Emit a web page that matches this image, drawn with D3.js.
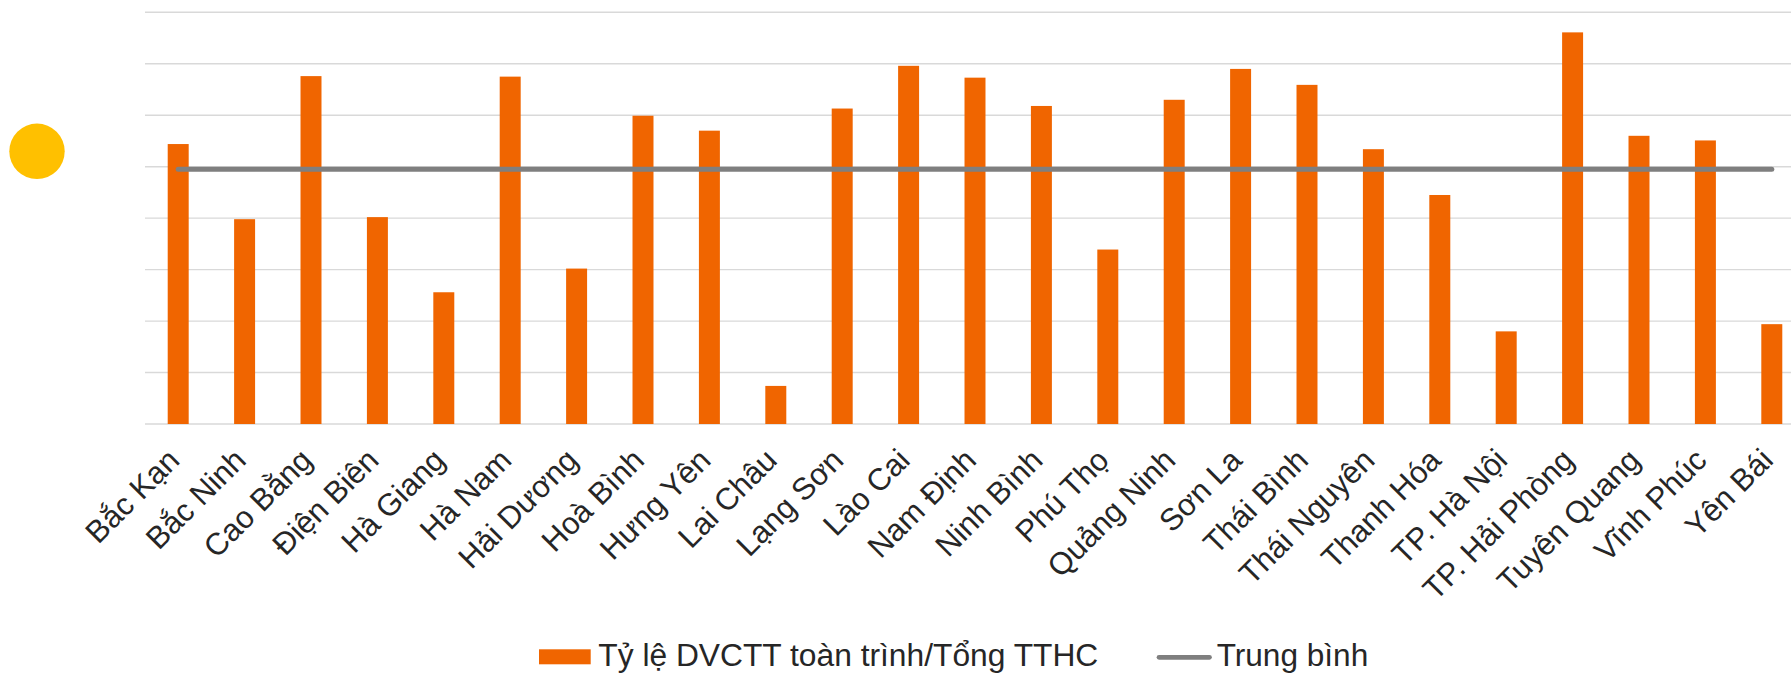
<!DOCTYPE html>
<html>
<head>
<meta charset="utf-8">
<script src="https://cdn.jsdelivr.net/npm/d3@7"></script>
<style>
html,body{margin:0;padding:0;background:#fff;overflow:hidden;}
svg{display:block;font-family:"Liberation Sans",Arial,sans-serif;}
</style>
</head>
<body>
<svg id="chart" width="1791" height="673"></svg>
<script>
const categories = ["Bắc Kạn","Bắc Ninh","Cao Bằng","Điện Biên","Hà Giang","Hà Nam","Hải Dương","Hoà Bình","Hưng Yên","Lai Châu","Lạng Sơn","Lào Cai","Nam Định","Ninh Bình","Phú Thọ","Quảng Ninh","Sơn La","Thái Bình","Thái Nguyên","Thanh Hóa","TP. Hà Nội","TP. Hải Phòng","Tuyên Quang","Vĩnh Phúc","Yên Bái"];
const ratioValues = [54.4,39.8,67.6,40.2,25.6,67.5,30.2,59.9,57.0,7.4,61.3,69.6,67.3,61.8,33.9,63.0,69.0,65.9,53.4,44.5,18.0,76.1,56.0,55.1,19.4];
const averageValue = 49.5;
const averageValues = categories.map(() => averageValue);
const yTicks = [0,10,20,30,40,50,60,70,80];
const seriesNames = ["Tỷ lệ DVCTT toàn trình/Tổng TTHC","Trung bình"];

const svg = d3.select("#chart");
const barColor = "#F06500";
const lineColor = "#7F7F7F";

const x = d3.scaleBand().domain(categories).range([145, 1805]).paddingInner(0.684).paddingOuter(0.342);
const y = d3.scaleLinear().domain([0, 80]).range([424, 12.3]);

// gridlines
svg.append("g").selectAll("line").data(yTicks).join("line")
  .attr("x1", 145).attr("x2", 1805)
  .attr("y1", d => y(d)).attr("y2", d => y(d))
  .attr("stroke", "#D9D9D9").attr("stroke-width", 1.4);

// bars
svg.append("g").selectAll("rect").data(categories).join("rect")
  .attr("x", d => x(d)).attr("width", x.bandwidth())
  .attr("y", (d,i) => y(ratioValues[i]))
  .attr("height", (d,i) => y(0) - y(ratioValues[i]))
  .attr("fill", barColor);

// average line
const line = d3.line().x((d,i) => x(categories[i]) + x.bandwidth()/2).y(d => y(d));
svg.append("path").datum(averageValues).attr("d", line)
  .attr("fill", "none").attr("stroke", lineColor).attr("stroke-width", 5)
  .attr("stroke-linecap", "round");

// x labels
svg.append("g").selectAll("text").data(categories).join("text")
  .attr("transform", d => `translate(${x(d) + x.bandwidth()/2 + 3},${462}) rotate(-45)`)
  .attr("text-anchor", "end")
  .attr("font-size", 31)
  .attr("fill", "#262626")
  .text(d => d);

// yellow dot
svg.append("circle").attr("cx", 37).attr("cy", 151.3).attr("r", 27.7).attr("fill", "#FFC000");

// legend
const lg = svg.append("g");
lg.append("rect").attr("x", 539).attr("y", 649.3).attr("width", 51.7).attr("height", 15).attr("fill", barColor);
lg.append("text").attr("x", 598.3).attr("y", 666).attr("font-size", 31).attr("fill", "#262626")
  .attr("textLength", 500).attr("lengthAdjust", "spacingAndGlyphs").text(seriesNames[0]);
lg.append("line").attr("x1", 1159).attr("x2", 1209.5).attr("y1", 657.3).attr("y2", 657.3)
  .attr("stroke", lineColor).attr("stroke-width", 4.7).attr("stroke-linecap", "round");
lg.append("text").attr("x", 1216.7).attr("y", 666).attr("font-size", 31).attr("fill", "#262626")
  .attr("textLength", 151.5).attr("lengthAdjust", "spacingAndGlyphs").text(seriesNames[1]);
</script>
</body>
</html>
